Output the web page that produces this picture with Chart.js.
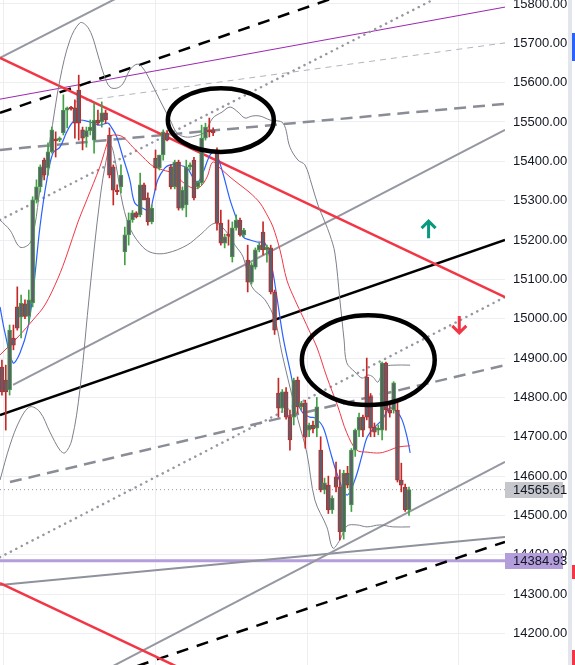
<!DOCTYPE html>
<html>
<head>
<meta charset="utf-8">
<script src="https://cdn.jsdelivr.net/npm/chart.js@4.4.1/dist/chart.umd.min.js"></script>
<style>
  html, body { margin: 0; padding: 0; background: #fff; }
</style>
</head>
<body>
<canvas id="chart" width="575" height="665"></canvas>
<script>
// candles (index 0..106), prices
var candleOpen = [14877,14844,14819,14951,15030,15004,15038,15006,15040,15302,15335,15403,15383,15424,15457,15454,15472,15530,15536,15536,
  15581,15480,15462,15478,15454,15505,15500,15523,15467,15386,15327,15335,15170,15213,15251,15269,15264,15340,15307,15246,
  15408,15383,15416,15472,15386,15335,15398,15281,15289,15386,15403,15335,15345,15459,15480,15480,15421,15243,15192,15213,
  15157,15231,15251,15213,15149,15093,15131,15175,15220,15175,15180,15068,14811,14773,14814,14750,14750,14844,14776,14786,
  14717,14730,14722,14666,14565,14577,14514,14598,14572,14458,14608,14527,14666,14717,14750,14852,14801,14725,14717,14717,
  14887,14768,14768,14768,14590,14572,14514];
var candleHigh = [14895,14882,14984,14984,15081,15060,15048,15073,15310,15353,15391,15408,15447,15487,15475,15462,15569,15538,15540,15556,
  15619,15487,15487,15505,15548,15530,15551,15530,15485,15391,15340,15391,15233,15269,15275,15272,15370,15345,15320,15289,
  15429,15416,15480,15478,15391,15403,15403,15335,15403,15396,15410,15350,15492,15497,15510,15485,15434,15276,15215,15251,
  15246,15264,15256,15230,15187,15142,15180,15192,15246,15187,15187,15073,14849,14820,14825,14768,14849,14852,14790,14793,
  14735,14740,14800,14700,14595,14600,14550,14636,14616,14615,14625,14670,14720,14760,14755,14900,14810,14735,14730,14890,
  14890,14780,14840,14793,14633,14580,14572];
var candleLow = [14806,14717,14806,14921,14971,14951,15000,14989,15030,15294,15322,15353,15365,15421,15411,15450,15467,15485,15530,15459,
  15454,15429,15436,15467,15421,15492,15487,15497,15358,15289,15315,15320,15137,15187,15245,15256,15259,15302,15238,15241,
  15327,15378,15403,15452,15330,15330,15276,15276,15259,15378,15302,15330,15340,15454,15462,15465,15225,15187,15180,15187,
  15144,15225,15210,15208,15068,15088,15126,15170,15162,15144,15063,14960,14750,14765,14745,14666,14730,14760,14768,14671,
  14700,14710,14700,14560,14555,14505,14505,14560,14438,14440,14570,14510,14650,14700,14700,14743,14700,14700,14705,14692,
  14717,14750,14760,14585,14560,14510,14500];
var candleClose = [14814,14814,14971,14933,14976,15040,15006,15048,15302,15335,15386,15365,15424,15480,15452,15459,15530,15536,15533,15497,
  15497,15459,15478,15487,15505,15497,15523,15505,15365,15327,15322,15365,15213,15251,15269,15259,15340,15302,15246,15281,
  15383,15416,15475,15454,15335,15398,15281,15327,15386,15391,15307,15347,15459,15487,15475,15472,15243,15192,15208,15210,
  15231,15251,15213,15225,15093,15137,15175,15187,15175,15182,15068,14971,14773,14814,14750,14692,14844,14776,14786,14699,
  14730,14720,14776,14565,14583,14514,14544,14572,14458,14608,14577,14666,14717,14750,14717,14750,14722,14712,14722,14887,
  14768,14760,14837,14590,14577,14514,14565.61];

// moving averages and bands: [candle index, price]
var blueMA = [[-0.5,15030],[0.8,14964],[2.9,14888],[4.7,14913],[6.8,14979],[8.1,15065],[9.9,15233],[11.7,15353],[13.3,15421],[15.1,15436],
  [16.9,15475],[18.5,15500],[20.3,15505],[22.9,15500],[25.5,15492],[27.6,15497],[28.6,15485],[29.9,15462],[31.5,15411],[33.3,15353],
  [34.6,15294],[36.7,15281],[38.5,15274],[39.3,15302],[40.6,15353],[42.4,15383],[43.8,15391],[45.8,15391],[48.2,15383],[49.7,15360],
  [51.0,15347],[52.3,15370],[54.2,15416],[55.5,15424],[57.3,15378],[59.4,15302],[61.2,15251],[62.8,15208],[64.6,15200],[66.4,15195],
  [68.5,15192],[70.3,15131],[71.6,15055],[73.2,14954],[75.0,14870],[76.8,14793],[78.4,14760],[80.2,14750],[81.5,14748],[83.6,14725],
  [85.4,14666],[87.2,14608],[89.8,14552],[91.9,14590],[93.8,14654],[95.1,14699],[97.1,14725],[99.0,14743],[101.0,14773],[102.9,14763],
  [104.2,14743],[105.5,14699],[106.3,14659]];
var redMA = [[-0.5,14908],[2.1,14933],[4.7,14959],[8.1,14997],[11.2,15035],[14.6,15103],[16.9,15162],[19.8,15246],[22.1,15302],[25.5,15386],
  [28.1,15462],[29.4,15467],[31.5,15462],[34.1,15436],[36.7,15411],[39.3,15388],[41.9,15378],[44.5,15370],[47.1,15347],[49.7,15332],
  [51.6,15335],[53.4,15360],[54.9,15398],[56.8,15383],[59.4,15360],[62.0,15340],[64.6,15320],[67.2,15294],[69.3,15259],[70.6,15233],
  [72.4,15175],[74.2,15098],[76.3,15048],[78.4,15004],[80.2,14966],[82.0,14928],[84.6,14852],[87.5,14776],[89.8,14710],[92.4,14666],
  [95.1,14661],[98.4,14659],[101.0,14666],[103.1,14674],[106.3,14677]];
var upperBand = [[-0.5,15251],[2.1,15225],[4.7,15182],[7.3,15192],[8.6,15238],[9.9,15327],[12.5,15454],[15.1,15607],[17.7,15708],[20.3,15752],
  [21.9,15746],[23.4,15721],[25.0,15670],[26.6,15619],[28.1,15589],[29.9,15586],[31.5,15597],[33.3,15632],[35.2,15647],[36.7,15637],
  [38.5,15607],[41.1,15556],[43.8,15505],[45.6,15472],[47.7,15462],[50.3,15464],[52.9,15475],[54.9,15510],[57.3,15525],[59.4,15538],
  [61.5,15525],[63.3,15510],[65.1,15515],[67.2,15515],[69.8,15505],[73.2,15497],[75.0,15436],[77.1,15403],[78.9,15391],[80.7,15340],
  [82.3,15289],[84.1,15246],[85.4,15213],[86.7,15167],[88.0,15048],[89.1,14946],[89.8,14888],[91.9,14865],[93.8,14849],[95.3,14857],
  [96.6,14852],[97.9,14839],[99.7,14877],[101.8,14882],[106.3,14882]];
var lowerBand = [[-0.5,14590],[2.1,14679],[4.7,14743],[7.3,14776],[9.9,14763],[12.5,14712],[15.1,14666],[16.4,14659],[18.2,14692],[20.3,14819],
  [22.9,15073],[25.5,15302],[27.3,15410],[28.4,15440],[29.7,15391],[31.5,15289],[33.6,15225],[36.7,15182],[39.3,15167],[43.0,15167],
  [48.2,15187],[51.6,15213],[55.5,15243],[58.1,15225],[60.7,15187],[62.8,15157],[65.1,15081],[68.5,15048],[71.1,14997],[72.9,14913],
  [75.0,14826],[77.1,14743],[79.4,14659],[81.5,14539],[84.6,14471],[86.2,14417],[88.0,14438],[89.8,14473],[92.4,14476],[95.1,14471],
  [98.4,14476],[101.8,14471],[106.3,14471]];

// drawn trend lines: [candle index, price] end points
var redTrendTop = [[-0.5,15663],[131,15055]];
var redTrendBottom = [[-0.5,14328],[46,14114]];
var blackTrend = [[-0.5,14755],[131,15200]];
var channelUpper = [[2.9,14832],[131,15480]];
var channelTop = [[-0.5,15663],[40,15865]];
var channelLower = [[20,14072],[131,14636]];
var flatTrend = [[-0.5,14323],[131,14445]];
var blackDashTop = [[-0.5,15523],[95,15844]];
var blackDashBottom = [[30,14100],[131,14433]];
var grayDashUpper = [[-0.5,15429],[131,15546]];
var grayDashLower = [[2.1,14585],[131,14882]];
var dottedUpper = [[-0.5,15251],[120,15849]];
var dottedLower = [[-0.5,14394],[131,15055]];
var thinDash = [[19,15551],[131,15701]];
var purpleTrend = [[-0.5,15558],[131,15792]];
var supportLevel = 14384.93;
var lastPrice = 14565.61;

// annotations: [index, price, radius in index, radius in price]
var circledZones = [[57.0,15505,13.8,81],[95.4,14895,17.3,114]];
var arrowUpAt = [111.1,15248];
var arrowDownAt = [119.1,14964];

var priceTicks = [14200,14300,14400,14500,14600,14700,14800,14900,15000,15100,15200,15300,15400,15500,15600,15700,15800];
var gridTimes = [20.3, 59.9, 99.2];
var xMin = -0.5, xMax = 131, yMin = 14120, yMax = 15810;

function pts(arr) { return arr.map(function (p) { return {x: p[0], y: p[1]}; }); }

function line(arr, color, width, dash, order, extra) {
  var ds = {
    type: 'line', data: pts(arr), borderColor: color, borderWidth: width,
    borderDash: dash || [], pointRadius: 0, tension: 0, fill: false, order: order
  };
  for (var k in extra || {}) ds[k] = extra[k];
  return ds;
}

var green = '#43a047', red = '#c62828';
var wickData = [], bodyData = [], wickColors = [];
for (var i = 0; i < candleOpen.length; i++) {
  wickData.push({x: i, y: [candleLow[i], candleHigh[i]]});
  bodyData.push({x: i, y: [Math.min(candleOpen[i], candleClose[i]), Math.max(candleOpen[i], candleClose[i])]});
  wickColors.push(candleClose[i] >= candleOpen[i] ? green : red);
}

var curve = {tension: 0.35};
var datasets = [
  line(thinDash, '#b2b5be', 1, [6, 5], 30),
  line(grayDashUpper, '#8a8d96', 2.5, [12, 7], 30),
  line(grayDashLower, '#8a8d96', 2.5, [12, 7], 30),
  line(dottedUpper, '#9598a1', 2.5, [0.1, 6], 30, {borderCapStyle: 'round'}),
  line(dottedLower, '#9598a1', 2.5, [0.1, 6], 30, {borderCapStyle: 'round'}),
  line(blackDashTop, '#000000', 2.5, [12, 9], 30),
  line(blackDashBottom, '#000000', 2.5, [12, 9], 30),
  line(channelUpper, '#9598a1', 2, [], 30),
  line(channelTop, '#9598a1', 2, [], 30),
  line(channelLower, '#9598a1', 2, [], 30),
  line(flatTrend, '#8f929b', 2, [], 30),
  line(purpleTrend, '#9c27b0', 1, [], 30),
  line([[xMin, lastPrice], [xMax, lastPrice]], '#9598a1', 1, [1, 3], 30),
  line([[xMin, supportLevel], [xMax, supportLevel]], '#b39ddb', 3, [], 30),
  line(redTrendTop, '#f23645', 2.5, [], 25),
  line(redTrendBottom, '#f23645', 2.5, [], 25),
  line(blackTrend, '#000000', 2.5, [], 25),
  line(upperBand, '#7d808a', 1, [], 20, curve),
  line(lowerBand, '#7d808a', 1, [], 20, curve),
  line(redMA, '#f23645', 1, [], 18, curve),
  line(blueMA, '#2962ff', 1.2, [], 18, curve),
  {type: 'bar', data: wickData, backgroundColor: wickColors, barThickness: 1, grouped: false, order: 6},
  {type: 'bar', data: bodyData, backgroundColor: '#5d606b', borderColor: wickColors, borderWidth: 1,
   borderSkipped: false, barThickness: 4, minBarLength: 2, grouped: false, order: 5}
];

var overlay = {
  id: 'overlay',
  afterDatasetsDraw: function (chart) {
    var ctx = chart.ctx, x = chart.scales.x, y = chart.scales.y, a = chart.chartArea;
    ctx.save();
    ctx.beginPath();
    ctx.rect(a.left, a.top, a.right - a.left, a.bottom - a.top);
    ctx.clip();
    ctx.strokeStyle = '#000';
    ctx.lineWidth = 4.5;
    circledZones.forEach(function (e) {
      var cx = x.getPixelForValue(e[0]), cy = y.getPixelForValue(e[1]);
      var rx = Math.abs(x.getPixelForValue(e[0] + e[2]) - cx);
      var ry = Math.abs(y.getPixelForValue(e[1] + e[3]) - cy);
      ctx.beginPath();
      ctx.ellipse(cx, cy, rx, ry, 0, 0, Math.PI * 2);
      ctx.stroke();
    });
    ctx.lineWidth = 3;
    ctx.lineCap = 'butt';
    // up arrow
    var ux = x.getPixelForValue(arrowUpAt[0]), uy = y.getPixelForValue(arrowUpAt[1]);
    ctx.strokeStyle = '#089981';
    ctx.beginPath();
    ctx.moveTo(ux, uy + 1); ctx.lineTo(ux, uy + 17);
    ctx.moveTo(ux - 7, uy + 7); ctx.lineTo(ux, uy); ctx.lineTo(ux + 7, uy + 7);
    ctx.stroke();
    // down arrow
    var dx = x.getPixelForValue(arrowDownAt[0]), dy = y.getPixelForValue(arrowDownAt[1]);
    ctx.strokeStyle = '#f23645';
    ctx.beginPath();
    ctx.moveTo(dx, dy - 1); ctx.lineTo(dx, dy - 17);
    ctx.moveTo(dx - 7, dy - 7); ctx.lineTo(dx, dy); ctx.lineTo(dx + 7, dy - 7);
    ctx.stroke();
    ctx.restore();
  },
  afterDraw: function (chart) {
    var ctx = chart.ctx, y = chart.scales.y, a = chart.chartArea;
    ctx.save();
    ctx.font = '13px "Liberation Sans Narrow", "Liberation Sans", sans-serif';
    ctx.textBaseline = 'middle';
    [[lastPrice, '#c5c7cc'], [supportLevel, '#b39ddb']].forEach(function (p) {
      var py = Math.round(y.getPixelForValue(p[0]));
      ctx.fillStyle = p[1];
      ctx.fillRect(a.right, py - 8, 58, 16);
      ctx.fillStyle = '#131722';
      ctx.fillText(p[0].toFixed(2), a.right + 8, py + 0.5);
    });
    // price axis edge strip
    ctx.fillStyle = '#e3e6ed';
    ctx.fillRect(568, 0, 4, 665);
    ctx.fillStyle = '#2962ff'; ctx.fillRect(572, 33, 3, 28);
    ctx.fillStyle = '#f23645'; ctx.fillRect(572, 565, 3, 14); ctx.fillRect(572, 650, 3, 15);
    ctx.restore();
  }
};

new Chart(document.getElementById('chart'), {
  type: 'bar',
  data: {datasets: datasets},
  plugins: [overlay],
  options: {
    responsive: false,
    animation: false,
    events: [],
    layout: {padding: {right: 8}},
    plugins: {legend: {display: false}, tooltip: {enabled: false}},
    scales: {
      x: {
        type: 'linear', offset: false, min: xMin, max: xMax,
        grid: {color: '#eceef2', drawTicks: false},
        border: {display: false},
        ticks: {display: false},
        afterBuildTicks: function (s) { s.ticks = gridTimes.map(function (v) { return {value: v}; }); },
        afterFit: function (s) { s.height = 0; s.paddingLeft = 0; s.paddingRight = 0; }
      },
      y: {
        position: 'right', min: yMin, max: yMax,
        grid: {color: '#eceef2', drawTicks: false},
        border: {display: false},
        ticks: {
          padding: 8, color: '#131722',
          font: {family: '"Liberation Sans Narrow", "Liberation Sans", sans-serif', size: 13},
          callback: function (v) { return v.toFixed(2); }
        },
        afterBuildTicks: function (s) { s.ticks = priceTicks.map(function (v) { return {value: v}; }); },
        afterFit: function (s) { s.width = 62; s.paddingTop = 0; s.paddingBottom = 0; }
      }
    }
  }
});
</script>
</body>
</html>
